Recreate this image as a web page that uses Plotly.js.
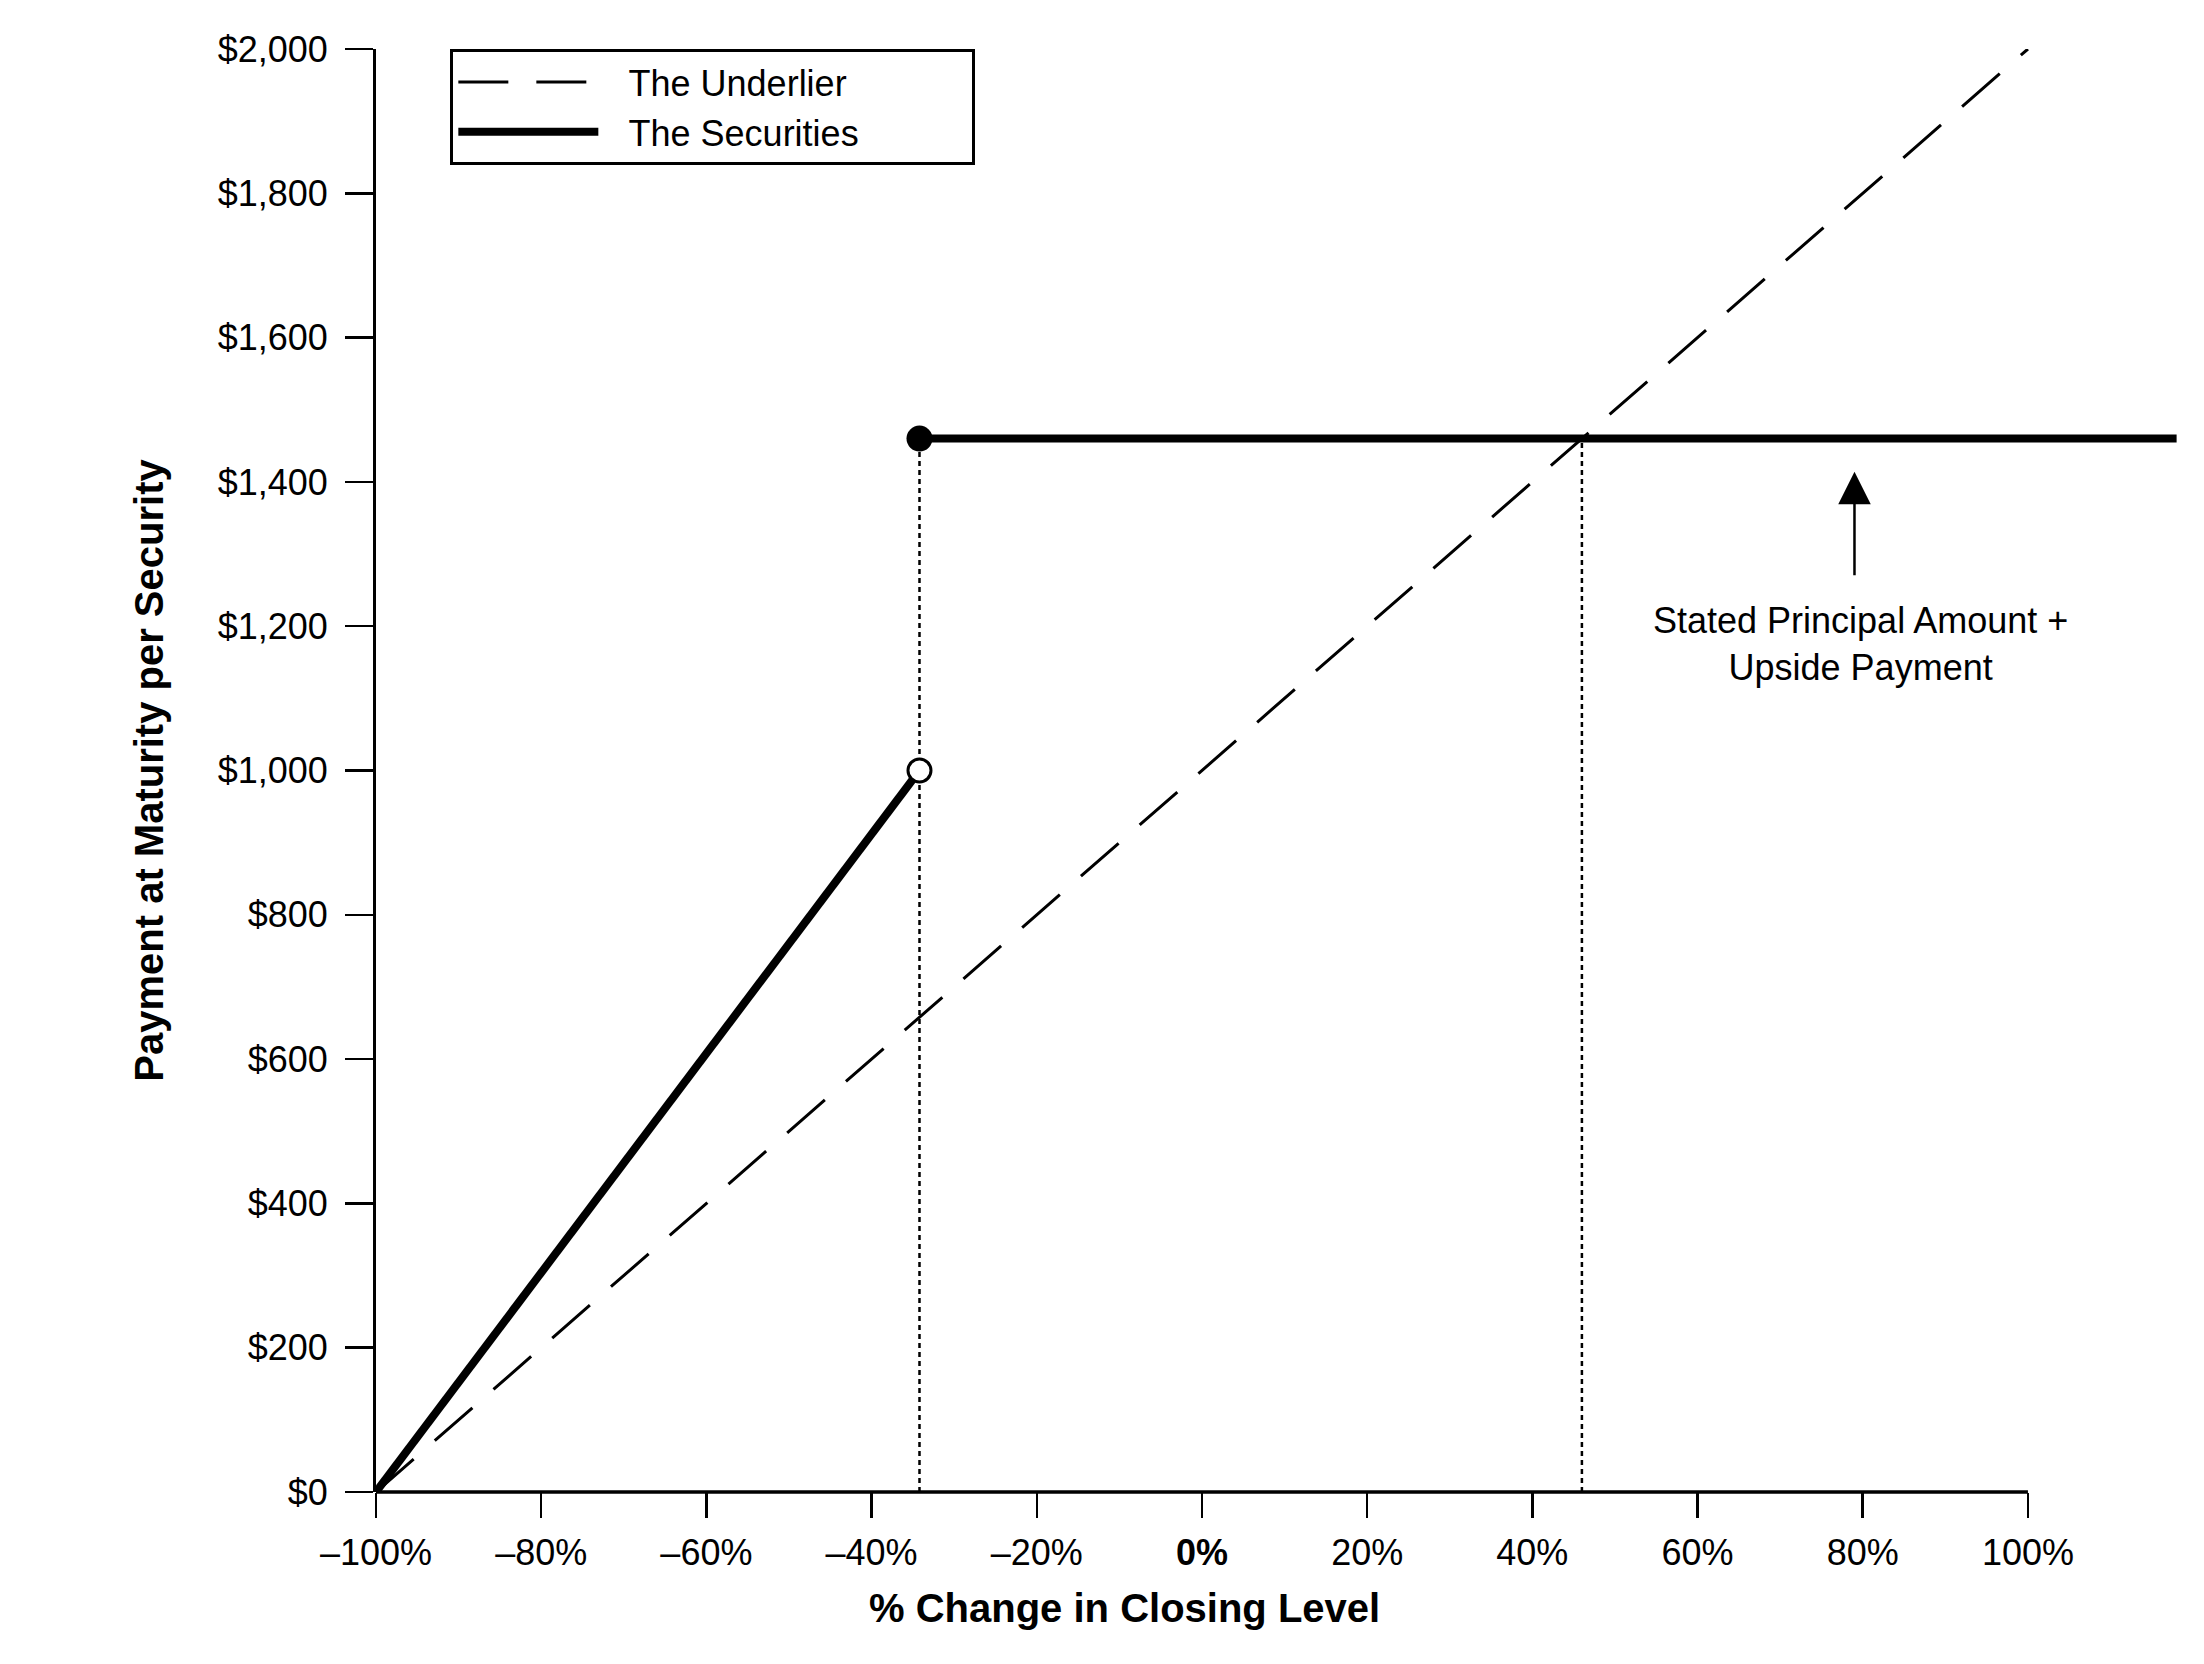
<!DOCTYPE html>
<html>
<head>
<meta charset="utf-8">
<script src="https://cdn.plot.ly/plotly-3.0.1.min.js"></script>
<style>
  body { margin: 0; background: #fff; }
  #chart { width: 2204px; height: 1664px; }
</style>
</head>
<body>
<div id="chart"></div>
<script>
// values
var underlierX = [ -100, 100 ];
var underlierY = [ 0, 2000 ];

var securitiesX = [ -100, -34.2, null, -34.2, 118 ];
var securitiesY = [ 0, 1000, null, 1460, 1460 ];

var barrierPct = -34.2;      // where the payment jumps
var capCrossPct = 46;        // underlier meets the capped payment
var capValue = 1460;         // stated principal + upside payment
var barrierLowValue = 1000;

var xTickVals = [ -100, -80, -60, -40, -20, 0, 20, 40, 60, 80, 100 ];
var xTickText = [ '–100%', '–80%', '–60%', '–40%', '–20%', '<b>0%</b>', '20%', '40%', '60%', '80%', '100%' ];
var yTickVals = [ 0, 200, 400, 600, 800, 1000, 1200, 1400, 1600, 1800, 2000 ];
var yTickText = yTickVals.map( function ( v ) { return '$' + v.toLocaleString( 'en-US' ); } );

var FONT = 'Liberation Sans, Arial, Helvetica, sans-serif';

// en space + thin space opens the gap between legend sample and label,
// trailing em spaces widen the box like the original
var LEAD = '\u2002\u2009';
var TRAIL = '\u2003\u2003\u2003';

var traces = [
    {
        x: underlierX, y: underlierY,
        name: LEAD + 'The Underlier',
        mode: 'lines',
        line: { color: '#000', width: 3, dash: '50px,28px' }
    },
    {
        x: securitiesX, y: securitiesY,
        name: LEAD + 'The Securities' + TRAIL,
        mode: 'lines',
        line: { color: '#000', width: 8 }
    },
    // dotted guides
    {
        x: [ barrierPct, barrierPct ], y: [ 0, capValue ],
        mode: 'lines', showlegend: false,
        line: { color: '#000', width: 2.5, dash: '5px,4px' }
    },
    {
        x: [ capCrossPct, capCrossPct ], y: [ 0, capValue ],
        mode: 'lines', showlegend: false,
        line: { color: '#000', width: 2.5, dash: '5px,4px' }
    },
    // jump markers
    {
        x: [ barrierPct ], y: [ capValue ],
        mode: 'markers', showlegend: false,
        marker: { symbol: 'circle', size: 26, color: '#000' }
    },
    {
        x: [ barrierPct ], y: [ barrierLowValue ],
        mode: 'markers', showlegend: false,
        marker: { symbol: 'circle', size: 23, color: '#fff', line: { color: '#000', width: 3 } }
    }
];

var layout = {
    width: 2204,
    height: 1664,
    margin: { l: 376, r: 15, t: 49, b: 172 },
    paper_bgcolor: '#fff',
    plot_bgcolor: '#fff',
    font: { family: FONT, size: 36, color: '#000' },
    showlegend: true,
    legend: {
        x: 0.041, xanchor: 'left',
        y: 1, yanchor: 'top',
        bgcolor: '#fff',
        bordercolor: '#000',
        borderwidth: 3,
        font: { family: FONT, size: 36, color: '#000' },
        itemwidth: 140
    },
    xaxis: {
        range: [ -100, 119.5 ],
        tickvals: xTickVals,
        ticktext: xTickText,
        ticks: 'outside',
        ticklen: 25,
        tickwidth: 2.5,
        tickcolor: '#000',
        ticklabelstandoff: 4,
        showline: false,
        showgrid: false,
        zeroline: false,
        tickfont: { family: FONT, size: 36, color: '#000' }
    },
    yaxis: {
        range: [ 0, 2000 ],
        tickvals: yTickVals,
        ticktext: yTickText,
        ticks: 'outside',
        ticklen: 28,
        tickwidth: 2.5,
        tickcolor: '#000',
        ticklabelstandoff: 10,
        showline: true,
        linecolor: '#000',
        linewidth: 3,
        showgrid: false,
        zeroline: false,
        tickfont: { family: FONT, size: 36, color: '#000' },
        title: {
            text: '<b>Payment at Maturity per Security</b>',
            font: { family: FONT, size: 40, color: '#000' },
            standoff: 42
        }
    },
    shapes: [
        // x axis line stops at the 100% tick
        {
            type: 'line', xref: 'x', yref: 'paper',
            x0: -100, x1: 100, y0: 0, y1: 0,
            line: { color: '#000', width: 3.5 }
        }
    ],
    annotations: [
        {
            xref: 'paper', yref: 'paper',
            x: 0.413, y: -0.0804,
            xanchor: 'center', yanchor: 'middle',
            showarrow: false,
            text: '<b>% Change in Closing Level</b>',
            font: { family: FONT, size: 40, color: '#000' }
        },
        {
            xref: 'x', yref: 'y',
            x: 79.7, y: 1176,
            xanchor: 'center', yanchor: 'middle',
            showarrow: false,
            text: 'Stated Principal Amount +<br>Upside Payment',
            font: { family: FONT, size: 36, color: '#000' }
        },
        {
            xref: 'x', yref: 'y',
            x: 79, y: 1414,
            ax: 0, ay: 105,
            text: '',
            showarrow: true,
            arrowhead: 2,
            arrowsize: 2.6,
            arrowwidth: 2.5,
            arrowcolor: '#000',
            standoff: 0
        }
    ]
};

Plotly.newPlot( 'chart', traces, layout, { displayModeBar: false, staticPlot: true } );
</script>
</body>
</html>
